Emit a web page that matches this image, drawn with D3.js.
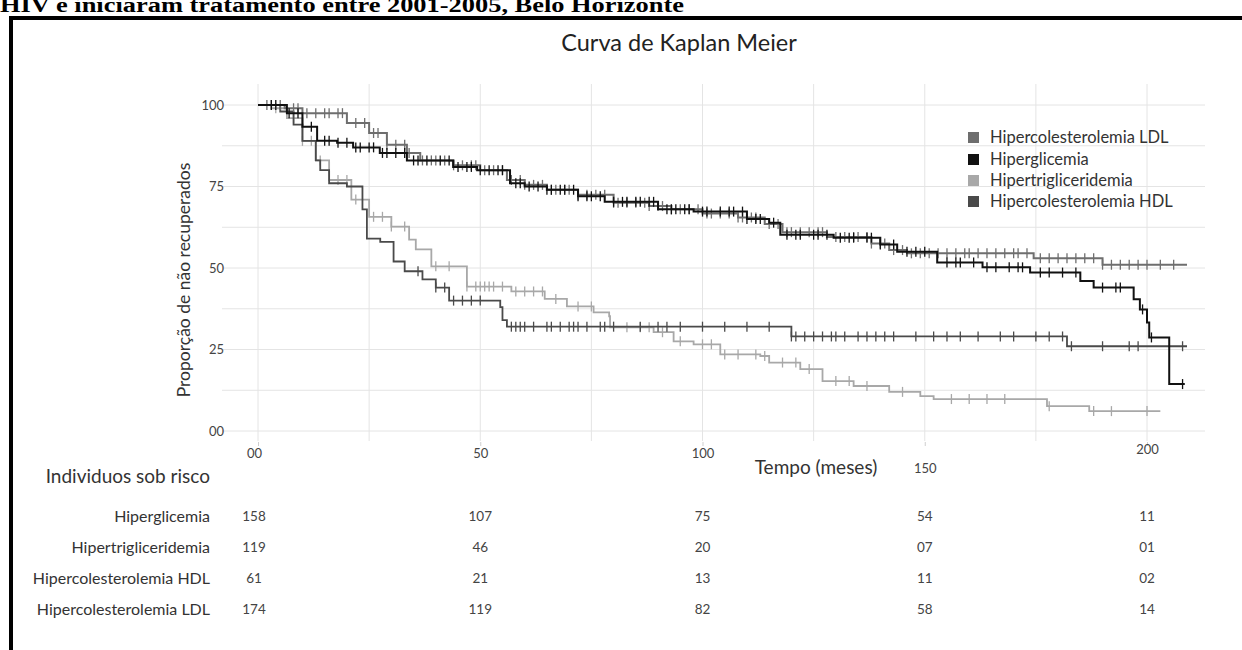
<!DOCTYPE html>
<html>
<head>
<meta charset="utf-8">
<script src="https://cdn.jsdelivr.net/npm/d3@7/dist/d3.min.js"></script>
<style>
  body { margin: 0; background: #fff; }
  svg { display: block; font-family: Lato, 'Open Sans', sans-serif; }
</style>
</head>
<body>
<svg id="chart" width="1242" height="650"></svg>
<script>
// Series (legend order)
const seriesNames = ['Hipercolesterolemia LDL', 'Hiperglicemia', 'Hipertrigliceridemia', 'Hipercolesterolemia HDL'];

// Kaplan-Meier steps, [tempo (meses), % nao recuperados], last point = end of follow-up
const ldlSteps = [[0,100],[6,99],[10,97.5],[20,94.5],[25,91.4],[29,87.8],[33.5,85.3],[36.5,83],[44,81.5],[50,80],
  [56,77],[60,75.5],[65,74],[72,72.5],[80,70],[88,69],[93,68],[100,66.7],[108,65.5],[114,63.5],[118,61],
  [128,59.5],[138,57.5],[142,55.5],[146,54.5],[174.5,53],[190,51],[209,51]];
const glicSteps = [[0,100],[6.5,97.5],[10,93.3],[13.3,89],[17.8,88.4],[21.4,87],[27.4,85.3],[33.5,83],[43.9,81],
  [49.3,80],[56.7,76],[60,75],[65,74],[72,72],[78,70.3],[90,68],[98,67.3],[110,65],[115,63.9],[117.5,60.2],
  [129.5,59.3],[140,57.2],[143.8,55],[152.8,51.7],[163,50.2],[173.7,48.6],[185,46],[188,44],[197,40.4],
  [198.4,37.3],[200,33.3],[200.5,28.7],[205,14.4],[208.5,14.4]];
const trigSteps = [[0,100],[3,99],[6.5,96],[10,89],[13,83],[16,77],[21,71],[25,65.7],[30,62.7],[34,58.7],
  [35.5,55.7],[39,50.5],[47,44.3],[57,42.8],[64.5,40.5],[69.5,38.2],[75.5,36.4],[79,35.2],[79.2,31.8],
  [89,30.3],[93.5,27.5],[98,26.6],[104,23.5],[113,23],[115,21],[122,19],[127,15.3],[134,13.8],[142,12],
  [149,10.7],[152,9.8],[177.5,7.6],[187,6.1],[203,6.1]];
const hdlSteps = [[0,100],[5,98],[8,94],[10,89],[13,83],[14,80],[16,76],[20,75],[23.5,68],[24.5,59],[27.5,58],
  [30.5,52],[33,49],[37,46.5],[40,44],[43,40],[54.5,38],[55,34],[56,32],[120,29],[182,26],[209,26]];

// Censored observations (tempo, meses)
const ldlCensors = [2,3,5,8,9,11,13,15,16,18,19,22,24,26,27,29,31,33,34,37,39,40,42,44,46,48,49,51,53,55,57,59,
  60,62,64,66,67,69,70,72,74,76,78,80,81,83,85,87,88,90,91,93,95,97,99,101,102,104,106,108,109,111,112,
  115,117,119,120,122,124,126,127,130,132,134,135,137,138,140,141,143,145,147,149,151,153,155,157,159,
  160,162,164,166,168,170,171,173,176,178,180,182,184,186,188,190,192,194,196,198,200,203,206];
const glicCensors = [3,4,7,9,12,15,16,18,20,22,23,25,26,28,29,31,33,35,36,38,41,43,45,47,48,50,52,54,55,58,59,
  61,63,65,66,68,69,71,72,74,75,77,80,82,83,85,86,88,89,92,93,94,96,97,100,101,104,106,107,109,110,112,
  113,116,119,121,122,125,126,128,131,133,134,137,138,140,143,146,148,150,155,157,158,161,164,166,169,
  171,172,176,178,181,184,190,193,194,199,201,208];
const trigCensors = [4,8,10,12,14,18,20,22,26,28,30,33,40,43,47,49,50,51,52,53,55,58,60,62,64,67,72,75,83,86,
  88,91,95,100,102,105,108,112,114,118,121,124,130,133,137,145,156,160,164,168,178,188,192,200];
const hdlCensors = [36,40,42,44,46,48,50,57,58,59,60,62,65,66,68,70,71,72,74,77,78,80,86,90,92,95,100,105,110,
  115,120,121,123,125,127,129,130,132,135,137,139,141,143,148,152,155,158,162,167,170,175,178,181,183,
  190,196,198,208];

// Axes
const yTicks = [0, 25, 50, 75, 100];
const yTickLabels = ['00', '25', '50', '75', '100'];
const xTicks = [0, 50, 100, 150, 200];
const xTickLabels = ['00', '50', '100', '150', '200'];

// Individuos sob risco
const riskRows = ['Hiperglicemia', 'Hipertrigliceridemia', 'Hipercolesterolemia HDL', 'Hipercolesterolemia LDL'];
const riskGlic = ['158', '107', '75', '54', '11'];
const riskTrig = ['119', '46', '20', '07', '01'];
const riskHdl = ['61', '21', '13', '11', '02'];
const riskLdl = ['174', '119', '82', '58', '14'];

window.addEventListener('load', () => {
  const svg = d3.select('#chart');
  const colors = ['#6e6e6e', '#111111', '#a8a8a8', '#4a4a4a'];
  const widths = [2, 2, 1.8, 1.8];

  const x = d3.scaleLinear().domain([0, 200]).range([258, 1147]);
  const y = d3.scaleLinear().domain([0, 100]).range([431, 105]);

  svg.append('rect').attr('width', 1242).attr('height', 650).attr('fill', '#fff');

  // cut-off caption line of the page above the figure
  svg.append('text')
    .attr('x', 0).attr('y', 12)
    .attr('font-family', "'Liberation Serif', serif")
    .attr('font-weight', 'bold')
    .attr('font-size', 20)
    .attr('textLength', 684).attr('lengthAdjust', 'spacingAndGlyphs')
    .text('HIV e iniciaram tratamento entre 2001-2005, Belo Horizonte');

  // figure frame
  svg.append('path')
    .attr('d', 'M1242,18 H11 V650')
    .attr('fill', 'none').attr('stroke', '#000').attr('stroke-width', 4);

  // grid
  const grid = svg.append('g').attr('stroke', '#e4e4e4').attr('stroke-width', 1);
  grid.selectAll('line.h')
    .data(d3.range(0, 100.1, 12.5))
    .enter().append('line')
      .attr('x1', 222).attr('x2', 1205)
      .attr('y1', d => y(d)).attr('y2', d => y(d));
  grid.selectAll('line.v')
    .data(d3.range(0, 201, 25))
    .enter().append('line')
      .attr('x1', d => x(d)).attr('x2', d => x(d))
      .attr('y1', 84).attr('y2', 441);

  // title
  svg.append('text')
    .attr('x', 679).attr('y', 51)
    .attr('text-anchor', 'middle')
    .attr('font-size', 23.5).attr('fill', '#222')
    .text('Curva de Kaplan Meier');

  // y axis
  const yAxis = svg.append('g')
    .attr('transform', 'translate(226,0)')
    .call(d3.axisLeft(y).tickValues(yTicks).tickFormat((d, i) => yTickLabels[i]).tickSize(0).tickPadding(2));
  yAxis.select('.domain').remove();
  yAxis.selectAll('text').attr('font-family', 'Lato, sans-serif').attr('font-size', 13).attr('fill', '#444');

  svg.append('text')
    .attr('transform', 'translate(190,280) rotate(-90)')
    .attr('text-anchor', 'middle')
    .attr('font-size', 17.5).attr('fill', '#333')
    .text('Proporção de não recuperados');

  // x axis
  const xOffsets = [0, 0, 0, 15, -4];
  const xAxis = svg.append('g')
    .attr('transform', 'translate(0,442)')
    .call(d3.axisBottom(x).tickValues(xTicks).tickFormat((d, i) => xTickLabels[i]).tickSize(4).tickPadding(3));
  xAxis.select('.domain').remove();
  xAxis.selectAll('line').attr('stroke', '#cfcfcf');
  xAxis.selectAll('text')
    .attr('font-family', 'Lato, sans-serif').attr('font-size', 13).attr('fill', '#444')
    .attr('dx', (d, i) => i === 0 ? -4 : 0)
    .attr('transform', (d, i) => `translate(0,${xOffsets[i]})`);

  svg.append('text')
    .attr('x', 816).attr('y', 474)
    .attr('text-anchor', 'middle')
    .attr('font-size', 19).attr('fill', '#333')
    .text('Tempo (meses)');

  // curves
  const allSteps = [ldlSteps, glicSteps, trigSteps, hdlSteps];
  const allCensors = [ldlCensors, glicCensors, trigCensors, hdlCensors];

  const line = d3.line()
    .x(d => x(d[0]))
    .y(d => y(d[1]))
    .curve(d3.curveStepAfter);

  const survivalAt = (steps, t) => {
    let v = steps[0][1];
    steps.forEach(s => { if (s[0] <= t) v = s[1]; });
    return v;
  };

  // draw lighter curves first so the black one sits on top
  const drawOrder = [2, 3, 0, 1];
  drawOrder.forEach(i => {
    const g = svg.append('g');
    g.append('path')
      .attr('d', line(allSteps[i]))
      .attr('fill', 'none')
      .attr('stroke', colors[i])
      .attr('stroke-width', widths[i]);
    g.selectAll('line')
      .data(allCensors[i])
      .enter().append('line')
        .attr('x1', t => x(t)).attr('x2', t => x(t))
        .attr('y1', t => y(survivalAt(allSteps[i], t)) - 5)
        .attr('y2', t => y(survivalAt(allSteps[i], t)) + 5)
        .attr('stroke', colors[i])
        .attr('stroke-width', 1.3);
  });

  // legend
  const legend = svg.append('g');
  const legendBase = [143, 165, 186, 207];
  seriesNames.forEach((name, i) => {
    legend.append('rect')
      .attr('x', 968).attr('y', legendBase[i] - 11)
      .attr('width', 11).attr('height', 11)
      .attr('fill', colors[i]);
    legend.append('text')
      .attr('x', 990).attr('y', legendBase[i])
      .attr('font-size', 16.5).attr('fill', '#333')
      .text(name);
  });

  // risk table
  svg.append('text')
    .attr('x', 210).attr('y', 483)
    .attr('text-anchor', 'end')
    .attr('font-size', 19).attr('fill', '#333')
    .text('Individuos sob risco');

  const riskValues = [riskGlic, riskTrig, riskHdl, riskLdl];
  const rowY = [522, 553, 584, 615];
  riskRows.forEach((name, r) => {
    svg.append('text')
      .attr('x', 210).attr('y', rowY[r])
      .attr('text-anchor', 'end')
      .attr('font-size', 16).attr('fill', '#333')
      .text(name);
    svg.append('g').selectAll('text')
      .data(riskValues[r])
      .enter().append('text')
        .attr('x', (d, i) => x(xTicks[i]) - (i === 0 ? 4 : 0))
        .attr('y', rowY[r] - 1)
        .attr('text-anchor', 'middle')
        .attr('font-size', 13.5).attr('fill', '#444')
        .text(d => d);
  });
});
</script>
</body>
</html>
